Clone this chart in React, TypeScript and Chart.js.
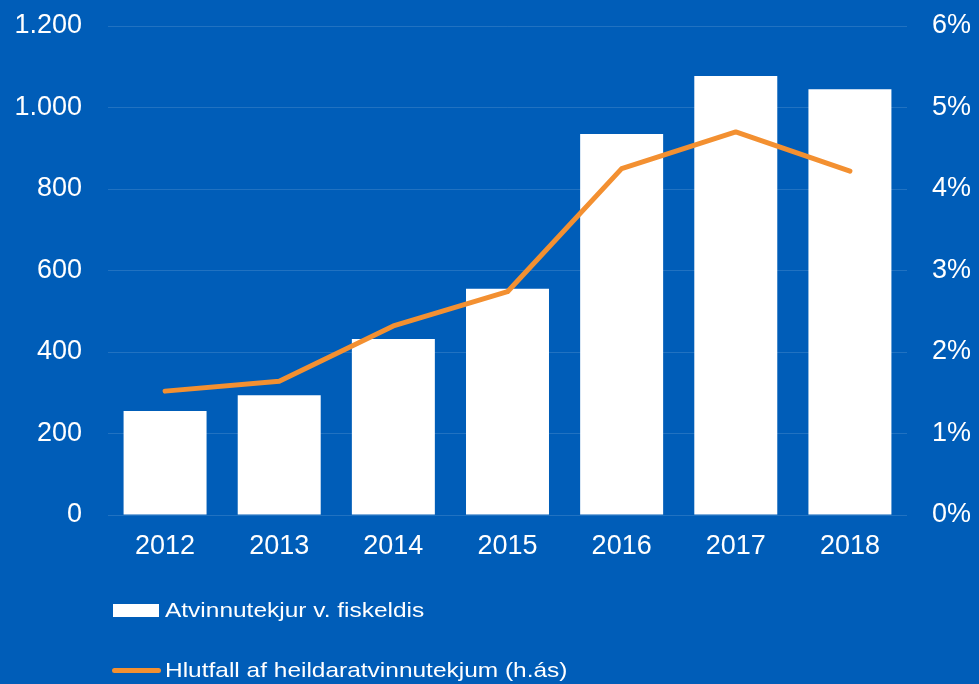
import React, { useEffect, useRef } from "react";
import { Chart, registerables } from "chart.js";

Chart.register(...registerables);

const years = ["2012", "2013", "2014", "2015", "2016", "2017", "2018"];
const revenue = [255, 294, 432, 555, 935, 1077, 1045];
const share = [1.52, 1.64, 2.32, 2.74, 4.25, 4.7, 4.22];
const barLabel = "Atvinnutekjur v. fiskeldis";
const lineLabel = "Hlutfall af heildaratvinnutekjum (h.ás)";

const BG = "#005DB8";
const ORANGE = "#F39031";
const FONT = "'Liberation Sans', Arial, sans-serif";

function fmtThousands(v: number): string {
  return String(v).replace(/\B(?=(\d{3})+(?!\d))/g, ".");
}

export default function App() {
  const ref = useRef<HTMLCanvasElement | null>(null);

  useEffect(() => {
    if (!ref.current) return;
    const chart = new Chart(ref.current, {
      type: "bar",
      data: {
        labels: years,
        datasets: [
          {
            type: "line",
            label: lineLabel,
            data: share,
            yAxisID: "y1",
            borderColor: ORANGE,
            backgroundColor: ORANGE,
            borderWidth: 5,
            pointRadius: 0,
            tension: 0,
            borderCapStyle: "round",
            borderJoinStyle: "round",
            order: 0,
          } as any,
          {
            type: "bar",
            label: barLabel,
            data: revenue,
            yAxisID: "y",
            backgroundColor: "#FFFFFF",
            borderWidth: 0,
            barPercentage: 0.727,
            categoryPercentage: 1,
            order: 1,
          } as any,
        ],
      },
      options: {
        responsive: false,
        animation: false,
        layout: { padding: { top: 26, left: 0, right: 0, bottom: 129 } },
        plugins: {
          legend: { display: false },
          tooltip: { enabled: false },
        },
        scales: {
          x: {
            grid: { display: false, drawTicks: false },
            border: { display: false },
            ticks: {
              color: "#FFFFFF",
              font: { family: FONT, size: 27 },
              padding: 15,
            },
            afterFit: (s: any) => {
              s.height = 40;
            },
          },
          y: {
            position: "left",
            min: 0,
            max: 1200,
            grid: {
              color: "rgba(255,255,255,0.13)",
              lineWidth: 1,
              drawTicks: false,
            },
            border: { display: false },
            ticks: {
              stepSize: 200,
              color: "#FFFFFF",
              font: { family: FONT, size: 27 },
              padding: 26,
              callback: (v: any) => fmtThousands(Number(v)),
            },
            afterFit: (s: any) => {
              s.width = 108;
              s.paddingTop = 0;
              s.paddingBottom = 0;
            },
          },
          y1: {
            position: "right",
            min: 0,
            max: 6,
            grid: { display: false, drawTicks: false },
            border: { display: false },
            ticks: {
              stepSize: 1,
              color: "#FFFFFF",
              font: { family: FONT, size: 27 },
              padding: 25,
              callback: (v: any) => `${v}%`,
            },
            afterFit: (s: any) => {
              s.width = 72;
              s.paddingTop = 0;
              s.paddingBottom = 0;
            },
          },
        },
      },
    });
    return () => chart.destroy();
  }, []);

  const legendText: React.CSSProperties = {
    position: "absolute",
    left: 165,
    fontFamily: FONT,
    fontSize: 21,
    lineHeight: "21px",
    color: "#FFFFFF",
    whiteSpace: "nowrap",
    transform: "scaleX(1.165)",
    transformOrigin: "left center",
  };

  return (
    <div
      style={{
        position: "fixed",
        left: 0,
        top: 0,
        width: 979,
        height: 684,
        background: BG,
        overflow: "hidden",
      }}
    >
      <canvas
        ref={ref}
        width={979}
        height={684}
        style={{ position: "absolute", left: 0, top: 0, display: "block" }}
      />
      <div
        style={{
          position: "absolute",
          left: 113,
          top: 604,
          width: 46,
          height: 13,
          background: "#FFFFFF",
        }}
      />
      <div style={{ ...legendText, top: 599 }}>{barLabel}</div>
      <div
        style={{
          position: "absolute",
          left: 112,
          top: 668,
          width: 49,
          height: 5,
          borderRadius: 3,
          background: ORANGE,
        }}
      />
      <div style={{ ...legendText, top: 659 }}>{lineLabel}</div>
    </div>
  );
}
